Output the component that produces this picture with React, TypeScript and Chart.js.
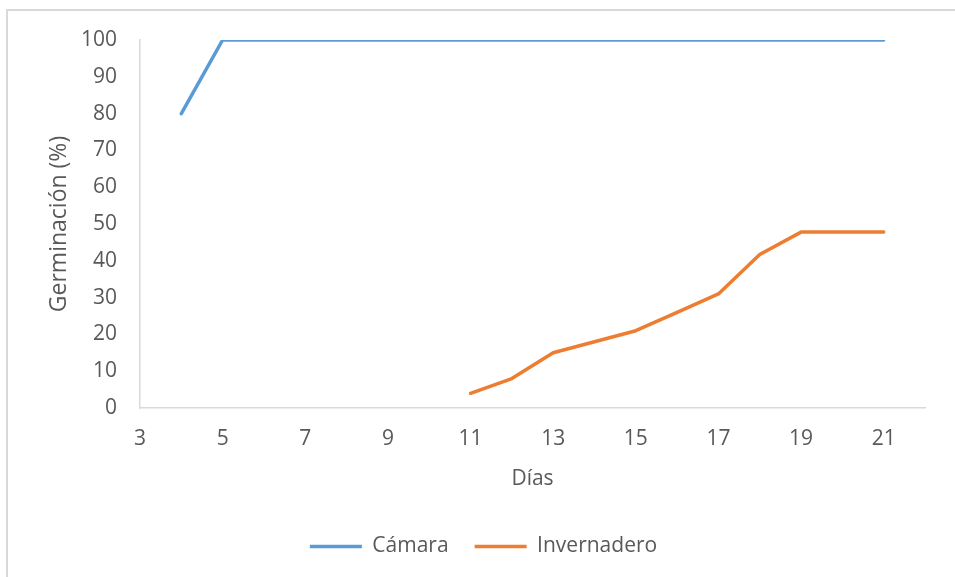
import React, { useEffect, useRef } from "react";
import { Chart, registerables } from "chart.js";

Chart.register(...registerables);

const camaraDays = [4, 5, 6, 7, 8, 9, 10, 11, 12, 13, 14, 15, 16, 17, 18, 19, 20, 21];
const camaraValues = [80, 100, 100, 100, 100, 100, 100, 100, 100, 100, 100, 100, 100, 100, 100, 100, 100, 100];
const invernaderoDays = [11, 12, 13, 14, 15, 16, 17, 18, 19, 20, 21];
const invernaderoValues = [4, 8, 15, 18, 21, 26, 31, 41.7, 47.8, 47.8, 47.8];
const xTickValues = [3, 5, 7, 9, 11, 13, 15, 17, 19, 21];
const seriesNames = ["Cámara", "Invernadero"];
const xTitle = "Días";
const yTitle = "Germinación (%)";

const FONT = "'Open Sans', 'Noto Sans', sans-serif";
const TEXT = "#595959";

export default function App() {
  const ref = useRef<HTMLCanvasElement | null>(null);

  useEffect(() => {
    if (!ref.current) return;
    const chart = new Chart(ref.current, {
      type: "line",
      data: {
        datasets: [
          {
            label: seriesNames[0],
            data: camaraDays.map((d, i) => ({ x: d, y: camaraValues[i] })),
            borderColor: "#5B9BD5",
            backgroundColor: "#5B9BD5",
            borderWidth: 3.5,
            pointRadius: 0,
            borderCapStyle: "round",
            borderJoinStyle: "round",
            tension: 0,
          },
          {
            label: seriesNames[1],
            data: invernaderoDays.map((d, i) => ({ x: d, y: invernaderoValues[i] })),
            borderColor: "#ED7D31",
            backgroundColor: "#ED7D31",
            borderWidth: 3.5,
            pointRadius: 0,
            borderCapStyle: "round",
            borderJoinStyle: "round",
            tension: 0,
          },
        ],
      },
      options: {
        animation: false,
        responsive: false,
        maintainAspectRatio: false,
        devicePixelRatio: 1,
        layout: { padding: { left: 42, right: 30, top: 40, bottom: 10 } },
        plugins: {
          tooltip: { enabled: false },
          legend: {
            position: "bottom",
            labels: {
              usePointStyle: true,
              pointStyle: "line",
              pointStyleWidth: 52,
              color: TEXT,
              font: { family: FONT, size: 21 },
              padding: 26,
            },
          },
        },
        scales: {
          x: {
            type: "linear",
            min: 3,
            max: 22,
            afterBuildTicks: (scale: any) => {
              scale.ticks = xTickValues.map((v) => ({ value: v }));
            },
            afterFit: (scale: any) => {
              scale.height = 102;
            },
            grid: { display: false, drawTicks: false },
            border: { display: true, color: "#d9d9d9", width: 1.5 },
            ticks: {
              color: TEXT,
              font: { family: FONT, size: 21 },
              padding: 18,
              maxRotation: 0,
              autoSkip: false,
            },
            title: {
              display: true,
              text: xTitle,
              color: TEXT,
              font: { family: FONT, size: 21 },
              padding: { top: 4, bottom: 18 },
            },
          },
          y: {
            min: 0,
            max: 100,
            afterFit: (scale: any) => {
              scale.width = 98;
            },
            grid: { display: false, drawTicks: false },
            border: { display: true, color: "#d9d9d9", width: 1.5 },
            ticks: {
              stepSize: 10,
              color: TEXT,
              font: { family: FONT, size: 21 },
              padding: 23,
            },
            title: {
              display: true,
              text: yTitle,
              color: TEXT,
              font: { family: FONT, size: 23 },
              padding: { top: 4, bottom: 4 },
            },
          },
        },
      },
    } as any);
    return () => chart.destroy();
  }, []);

  return (
    <div
      style={{
        position: "fixed",
        left: 0,
        top: 0,
        width: 955,
        height: 577,
        overflow: "hidden",
        background: "#fff",
      }}
    >
      <div
        style={{
          position: "absolute",
          left: 6,
          top: 9,
          width: 1100,
          height: 800,
          border: "2px solid #d9d9d9",
          boxSizing: "border-box",
        }}
      />
      <canvas
        ref={ref}
        width={955}
        height={577}
        style={{ position: "absolute", left: 0, top: 0, width: 955, height: 577 }}
      />
    </div>
  );
}
